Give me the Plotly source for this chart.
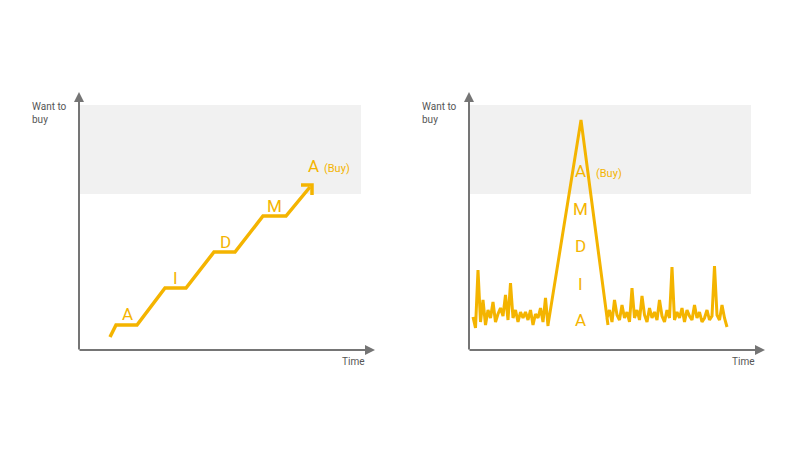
import plotly.graph_objects as go

# Left panel: staircase journey (pixel-space data coords)
stair_x = [110, 116, 137, 165, 186, 214, 235, 263, 286, 310]
stair_y = [337, 325, 325, 288, 288, 252, 252, 216, 216, 187]
stair_labels = ["A", "I", "D", "M", "A"]
stair_lab_x = [127, 175, 225, 274, 313]
stair_lab_y = [314, 278, 242, 206, 166]

# Right panel: noise + spike
left_noise = [317, 328, 270, 322, 300, 325, 310, 318, 302, 322, 314, 308, 316, 295, 320, 283,
              318, 310, 322, 312, 318, 312, 320, 310, 325, 314, 318, 308, 322, 298, 326]
peak_x = [548, 581, 608]
peak_y = [325, 120, 325]
right_noise = [318, 310, 322, 300, 315, 320, 305, 318, 312, 322, 288, 318, 310, 320, 296, 315,
               322, 308, 318, 312, 320, 300, 316, 322, 310, 318, 267, 320, 312, 318, 308, 322,
               310, 316, 320, 305, 318, 312, 322, 318, 310, 320, 316, 266, 315, 320, 305, 318, 327]
right_labels = ["A", "M", "D", "I", "A"]
right_lab_y = [171, 209, 246, 284, 320]

YEL = "#F4B400"
GREY = "#757575"

fig = go.Figure()
for x0 in (79, 469):
    fig.add_shape(type="rect", x0=x0, x1=x0 + 282, y0=105, y1=194, fillcolor="#F1F1F1",
                  line_width=0, layer="below")

fig.add_trace(go.Scatter(x=stair_x, y=stair_y, mode="lines",
                         line=dict(color=YEL, width=3.5), hoverinfo="skip"))
fig.add_trace(go.Scatter(x=[301, 312, 312], y=[185, 185, 195], mode="lines",
                         line=dict(color=YEL, width=3.5), hoverinfo="skip"))

nx_left = [473 + 2.5 * i for i in range(len(left_noise))]
nx_right = [607 + 2.5 * i for i in range(len(right_noise))]
rx = nx_left + peak_x + nx_right
ry = left_noise + peak_y + right_noise
fig.add_trace(go.Scatter(x=rx, y=ry, mode="lines",
                         line=dict(color=YEL, width=3), hoverinfo="skip"))

ann = []
for t, x, y in zip(stair_labels, stair_lab_x, stair_lab_y):
    ann.append(dict(x=x, y=y, text=t, showarrow=False, font=dict(size=17, color=YEL)))
ann.append(dict(x=337, y=168, text="(Buy)", showarrow=False, font=dict(size=11, color=YEL)))
for t, y in zip(right_labels, right_lab_y):
    ann.append(dict(x=580, y=y, text=t, showarrow=False, font=dict(size=17, color=YEL)))
ann.append(dict(x=609, y=173, text="(Buy)", showarrow=False, font=dict(size=11, color=YEL)))

for ox in (79, 469):
    ann.append(dict(x=ox, y=92, ax=ox, ay=351, xref="x", yref="y", axref="x", ayref="y",
                    showarrow=True, arrowhead=2, arrowsize=1, arrowwidth=2, arrowcolor=GREY, text=""))
    ann.append(dict(x=ox + 296, y=350, ax=ox - 1, ay=350, xref="x", yref="y", axref="x", ayref="y",
                    showarrow=True, arrowhead=2, arrowsize=1, arrowwidth=2, arrowcolor=GREY, text=""))
    ann.append(dict(x=ox - 30, y=113, text="Want to<br>buy", showarrow=False, align="left",
                    font=dict(size=10, color="#555")))
    ann.append(dict(x=ox + 274, y=361, text="Time", showarrow=False, font=dict(size=10, color="#555")))

fig.update_layout(
    width=800, height=450, margin=dict(l=0, r=0, t=0, b=0),
    paper_bgcolor="white", plot_bgcolor="white", showlegend=False,
    font=dict(family="Roboto"),
    xaxis=dict(range=[8, 808], visible=False, fixedrange=True),
    yaxis=dict(range=[458, 8], visible=False, fixedrange=True),
    annotations=ann,
)
fig.write_html("out.html")
